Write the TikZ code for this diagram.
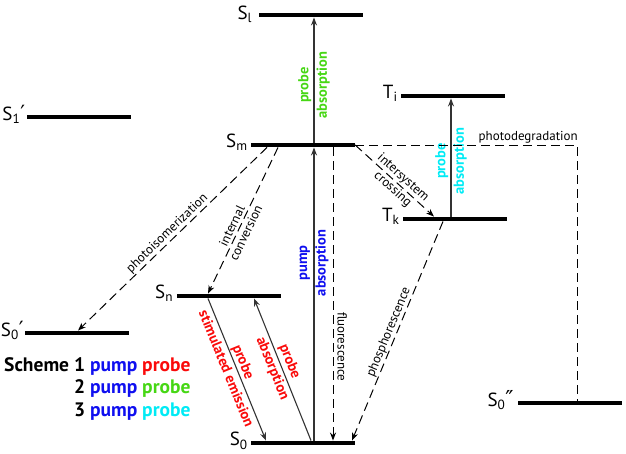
\documentclass[tikz,border=0pt]{standalone}
\usepackage{fontspec}
\setmainfont{PT Sans}
\newfontfamily\symf{DejaVu Sans}
\usetikzlibrary{arrows.meta,calc}
\definecolor{pgreen}{RGB}{70,215,20}
\definecolor{pblue}{RGB}{15,15,240}
\definecolor{pred}{RGB}{250,10,10}
\definecolor{pcyan}{RGB}{0,235,245}
\newcommand{\prm}{{\symf\fontsize{21}{21}\selectfont ′}}
\newcommand{\dprm}{{\symf\fontsize{22}{22}\selectfont ″}}
\begin{document}
\begin{tikzpicture}[x=1pt,y=-1pt,
  level/.style={fill=black,inner sep=0pt,minimum width=104pt,minimum height=4.5pt},
  lvlabel/.style={font=\fontsize{19}{19}\selectfont,anchor=base east,inner sep=0pt},
  solidarrow/.style={draw=black!80,line width=1.1pt,-{Stealth[length=8pt,width=6pt]}},
  dashline/.style={draw=black,line width=1pt,dash pattern=on 9pt off 5pt},
  dasharrow/.style={dashline,-{Stealth[length=8pt,width=6pt]}},
  thinlabel/.style={font=\fontsize{13}{15.5}\selectfont,inner sep=1pt,align=center},
  boldlabel/.style={font=\bfseries\fontsize{14.5}{18.5}\selectfont,align=center,inner sep=0pt},
  scheme/.style={font=\bfseries\fontsize{19.5}{22.5}\selectfont,inner sep=0pt}]
\useasboundingbox (0,0) rectangle (626,453);

% energy levels
\node[level] (Sl)   at (310.5,15) {};
\node[level] (S1p)  at (78.5,117) {};
\node[level] (Sm)   at (303,145) {};
\node[level] (Ti)   at (453,96) {};
\node[level] (Tk)   at (455,219) {};
\node[level] (Sn)   at (228.5,296) {};
\node[level] (S0p)  at (77,333) {};
\node[level] (S0)   at (303,443) {};
\node[level] (S0pp) at (570,403) {};

% level labels
\node[lvlabel] (lSl)   at ([xshift=-6pt,yshift=-4pt]Sl.west) {S\textsubscript{l}};
\node[lvlabel] (lS1p)  at ([xshift=-1pt,yshift=-3pt]S1p.west) {S\textsubscript{1}\prm};
\node[lvlabel] (lSm)   at ([xshift=-3pt,yshift=-2.5pt]Sm.west) {S\textsubscript{m}};
\node[lvlabel] (lTi)   at ([xshift=-3pt,yshift=-2.5pt]Ti.west) {T\textsubscript{i}};
\node[lvlabel] (lTk)   at ([xshift=-3pt,yshift=-2.5pt]Tk.west) {T\textsubscript{k}};
\node[lvlabel] (lSn)   at ([xshift=-3pt,yshift=-2.5pt]Sn.west) {S\textsubscript{n}};
\node[lvlabel] (lS0p)  at ([xshift=-1pt,yshift=-3pt]S0p.west) {S\textsubscript{0}\prm};
\node[lvlabel] (lS0)   at ([xshift=-3pt,yshift=-2.5pt]S0.west) {S\textsubscript{0}};
\node[lvlabel] (lS0pp) at ([xshift=-4pt,yshift=-3pt]S0pp.west) {S\textsubscript{0}\dprm};

% columns for vertical / slanted connectors
\coordinate (cA) at (314,0);
\coordinate (cF) at (333,0);
\coordinate (cC) at (451,0);
\coordinate (cSe1) at (208,0);
\coordinate (cSe2) at (266,0);
\coordinate (cPa1) at (311,0);
\coordinate (cPa2) at (254,0);
\coordinate (cIc1) at (278,0);
\coordinate (cIc2) at (208,0);
\coordinate (cIsc) at (434,0);
\coordinate (cPi1) at (267,0);
\coordinate (cPi2) at (78,0);
\coordinate (cPh1) at (443,0);
\coordinate (cPh2) at (352,0);
\coordinate (cPd) at (577,0);

% solid transitions
\draw[solidarrow] (Sm.north -| cA) -- node[boldlabel,text=pgreen,sloped,pos=0.46] (tg) {probe\\absorption} (Sl.south -| cA);
\draw[solidarrow] (S0.north -| cA) -- node[boldlabel,text=pblue,sloped,pos=0.606] (tb) {pump\\absorption} (Sm.south -| cA);
\draw[solidarrow] (Tk.north -| cC) -- node[boldlabel,text=pcyan,sloped,pos=0.47] (tc) {probe\\absorption} (Ti.south -| cC);
\draw[solidarrow] (Sn.south -| cSe1) -- node[boldlabel,text=pred,sloped,pos=0.47] (tse) {probe\\stimulated emission} (S0.north -| cSe2);
\draw[solidarrow] (S0.north -| cPa1) -- node[boldlabel,text=pred,sloped,pos=0.53] (tpa) {probe\\absorption} (Sn.south -| cPa2);

% dashed transitions
\draw[dasharrow] (Sm.south -| cF) -- node[thinlabel,sloped,above=3pt,pos=0.68] (tfl) {fluorescence} (S0.north -| cF);
\draw[dasharrow] (Sm.south -| cIc1) -- node[thinlabel,sloped,pos=0.56] (tic) {internal\\conversion} (Sn.north -| cIc2);
\draw[dasharrow] (Sm.east) -- node[thinlabel,sloped,pos=0.54] (tisc) {intersystem\\crossing} (Tk.north -| cIsc);
\draw[dasharrow] (Sm.south -| cPi1) -- node[thinlabel,sloped,above,pos=0.5] (tpi) {photoisomerization} (S0p.north -| cPi2);
\draw[dasharrow] (Tk.south -| cPh1) -- node[thinlabel,sloped,above,pos=0.52] (tph) {phosphorescence} (S0.north -| cPh2);
\draw[dashline] (Sm.east) -- node[thinlabel,above,pos=0.78] (tpd) {photodegradation} (Sm.east -| cPd) -- (S0pp.north -| cPd);

% legend
\node[scheme,anchor=base west] (legend) at (4,371) {\begin{tabular}[t]{@{}r@{ }l@{}}
Scheme 1 & \textcolor{pblue}{pump} \textcolor{pred}{probe}\\
2 & \textcolor{pblue}{pump} \textcolor{pgreen}{probe}\\
3 & \textcolor{pblue}{pump} \textcolor{pcyan}{probe}
\end{tabular}};
\end{tikzpicture}
\end{document}
